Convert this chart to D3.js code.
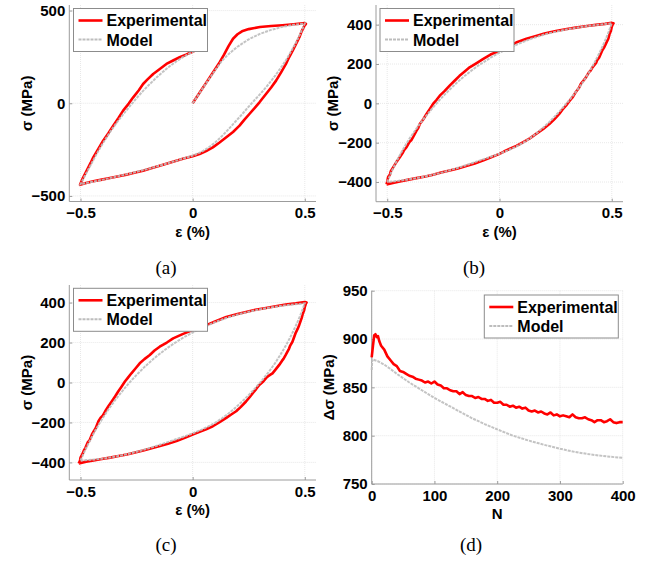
<!DOCTYPE html>
<html>
<head>
<meta charset="utf-8">
<script src="https://cdn.jsdelivr.net/npm/d3@7/dist/d3.min.js"></script>
<style>
  body { margin: 0; background: #fff; }
  svg { display: block; }
</style>
</head>
<body>
<svg id="chart"></svg>
<script>
// ---- data ----
// (a) first cycle, strain (%) / stress (MPa) pairs
var aExp = [[0,0],[0.03,55],[0.06,110],[0.09,165],[0.12,220],[0.14,262],[0.16,308],[0.18,348],[0.2,372],[0.22,388],[0.25,400],[0.3,411],[0.35,417],[0.4,421],[0.45,426],[0.5,432],
  [0.505,428],[0.497,415],[0.485,385],[0.476,356],[0.46,318],[0.446,284],[0.43,248],[0.416,212],[0.395,168],[0.372,122],[0.35,85],[0.327,50],[0.298,5],[0.275,-28],[0.253,-58],[0.23,-90],[0.209,-121],[0.18,-155],[0.15,-184],[0.12,-212],[0.09,-238],[0.06,-258],[0.031,-274],[0,-286],[-0.04,-298],[-0.073,-310],[-0.11,-324],[-0.147,-337],[-0.185,-351],[-0.221,-364],[-0.26,-375],[-0.295,-385],[-0.33,-394],[-0.369,-403],[-0.405,-412],[-0.443,-421],[-0.475,-430],[-0.502,-440],
  [-0.498,-428],[-0.49,-405],[-0.473,-364],[-0.455,-322],[-0.443,-292],[-0.42,-245],[-0.399,-202],[-0.375,-160],[-0.354,-121],[-0.33,-78],[-0.31,-40],[-0.285,-2],[-0.265,32],[-0.24,70],[-0.221,104],[-0.2,130],[-0.176,158],[-0.145,186],[-0.117,212],[-0.085,232],[-0.058,248],[-0.03,262],[-0.006,275],[0.02,290]];
var aModel = [[0,0],[0.05,90],[0.1,178],[0.13,228],[0.16,265],[0.2,305],[0.25,345],[0.3,374],[0.35,396],[0.4,412],[0.45,423],[0.5,430],
  [0.48,375],[0.46,325],[0.44,282],[0.42,240],[0.4,203],[0.37,152],[0.34,105],[0.31,62],[0.28,22],[0.25,-18],[0.22,-60],[0.19,-100],[0.16,-140],[0.13,-178],[0.1,-212],[0.07,-240],[0.04,-262],[0.01,-278],[-0.03,-294],[-0.1,-320],[-0.2,-355],[-0.3,-385],[-0.4,-412],[-0.5,-437],
  [-0.48,-390],[-0.46,-345],[-0.44,-300],[-0.42,-256],[-0.4,-215],[-0.37,-158],[-0.34,-107],[-0.31,-60],[-0.28,-16],[-0.25,28],[-0.22,68],[-0.19,105],[-0.16,140],[-0.13,172],[-0.1,202],[-0.07,228],[-0.04,251],[-0.01,271],[0.02,288]];

// (b) stabilised loop
var bExp = [[-0.503,-412],[-0.499,-392],[-0.496,-375],[-0.488,-362],[-0.484,-345],[-0.473,-324],[-0.46,-300],[-0.455,-292],[-0.444,-274],[-0.43,-250],[-0.425,-238],[-0.414,-223],[-0.4,-195],[-0.393,-188],[-0.385,-172],[-0.37,-140],[-0.362,-126],[-0.355,-105],[-0.34,-82],[-0.325,-54],[-0.31,-28],[-0.296,-3],[-0.28,18],[-0.266,39],[-0.245,62],[-0.222,90],[-0.2,115],[-0.178,140],[-0.155,162],[-0.133,183],[-0.1,206],[-0.074,225],[-0.04,248],[0,267],[0.04,290],[0.074,309],[0.12,328],[0.163,343],[0.2,355],[0.251,368],[0.3,378],[0.34,385],[0.39,393],[0.429,399],[0.47,404],[0.5,409],[0.508,407],
  [0.506,406],[0.5,390],[0.496,368],[0.49,352],[0.485,330],[0.473,301],[0.465,282],[0.458,270],[0.444,233],[0.435,220],[0.43,205],[0.414,183],[0.405,165],[0.398,158],[0.385,132],[0.37,110],[0.363,100],[0.355,81],[0.34,58],[0.325,30],[0.31,10],[0.296,-12],[0.28,-32],[0.266,-54],[0.245,-80],[0.222,-105],[0.195,-130],[0.163,-155],[0.135,-178],[0.104,-198],[0.075,-216],[0.044,-232],[0.02,-245],[0,-257],[-0.04,-275],[-0.074,-291],[-0.11,-306],[-0.148,-319],[-0.185,-331],[-0.222,-341],[-0.26,-352],[-0.296,-363],[-0.33,-372],[-0.37,-380],[-0.41,-389],[-0.444,-397],[-0.475,-405],[-0.503,-412]];
var bModel = [[-0.5,-400],[-0.48,-345],[-0.46,-298],[-0.44,-255],[-0.42,-215],[-0.4,-178],[-0.37,-128],[-0.34,-82],[-0.31,-40],[-0.28,0],[-0.25,38],[-0.22,72],[-0.19,105],[-0.16,135],[-0.13,162],[-0.1,188],[-0.07,210],[-0.04,232],[0,258],[0.05,285],[0.1,310],[0.15,332],[0.2,350],[0.25,364],[0.3,376],[0.35,386],[0.4,394],[0.45,401],[0.5,407],
  [0.48,345],[0.46,292],[0.44,245],[0.42,200],[0.4,160],[0.37,105],[0.34,58],[0.31,15],[0.28,-25],[0.25,-62],[0.22,-97],[0.19,-128],[0.16,-157],[0.13,-182],[0.1,-204],[0.07,-222],[0.04,-238],[0,-256],[-0.05,-276],[-0.1,-295],[-0.15,-315],[-0.2,-333],[-0.25,-350],[-0.3,-364],[-0.35,-376],[-0.4,-386],[-0.45,-394],[-0.5,-400]];

// (c) later loop
var cExp = [[-0.508,-405],[-0.502,-390],[-0.5,-376],[-0.49,-355],[-0.485,-340],[-0.478,-327],[-0.468,-300],[-0.46,-290],[-0.449,-260],[-0.44,-242],[-0.432,-228],[-0.42,-194],[-0.41,-176],[-0.4,-165],[-0.39,-144],[-0.375,-118],[-0.361,-95],[-0.346,-70],[-0.332,-45],[-0.318,-22],[-0.302,5],[-0.29,22],[-0.273,46],[-0.255,70],[-0.236,96],[-0.215,117],[-0.191,138],[-0.17,160],[-0.147,179],[-0.115,200],[-0.087,221],[-0.045,242],[0,262],[0.03,275],[0.061,287],[0.1,305],[0.15,328],[0.2,343],[0.238,353],[0.28,364],[0.327,373],[0.37,382],[0.415,390],[0.46,396],[0.5,403],[0.508,400],
  [0.505,395],[0.5,378],[0.497,361],[0.49,340],[0.486,322],[0.475,287],[0.468,268],[0.46,250],[0.445,204],[0.435,185],[0.43,170],[0.415,138],[0.405,118],[0.398,108],[0.386,88],[0.372,68],[0.356,46],[0.345,38],[0.335,30],[0.327,22],[0.315,5],[0.297,-12],[0.283,-33],[0.268,-53],[0.253,-75],[0.238,-95],[0.215,-122],[0.194,-144],[0.172,-160],[0.15,-177],[0.12,-198],[0.09,-219],[0.06,-234],[0.031,-247],[0,-260],[-0.035,-277],[-0.072,-293],[-0.11,-306],[-0.146,-318],[-0.183,-329],[-0.22,-340],[-0.257,-350],[-0.294,-360],[-0.33,-368],[-0.368,-376],[-0.405,-383],[-0.442,-390],[-0.475,-396],[-0.508,-405]];
var cModel = [[-0.5,-390],[-0.48,-340],[-0.46,-295],[-0.44,-252],[-0.42,-213],[-0.4,-176],[-0.37,-126],[-0.34,-80],[-0.31,-38],[-0.28,2],[-0.25,38],[-0.22,72],[-0.19,103],[-0.16,132],[-0.13,158],[-0.1,183],[-0.07,205],[-0.04,226],[0,250],[0.05,277],[0.1,302],[0.15,323],[0.2,340],[0.25,354],[0.3,366],[0.35,376],[0.4,384],[0.45,391],[0.5,396],
  [0.48,336],[0.46,284],[0.44,237],[0.42,194],[0.4,155],[0.37,101],[0.34,54],[0.31,12],[0.28,-27],[0.25,-63],[0.22,-96],[0.19,-127],[0.16,-155],[0.13,-180],[0.1,-202],[0.07,-220],[0.04,-236],[0,-255],[-0.05,-275],[-0.1,-294],[-0.15,-313],[-0.2,-331],[-0.25,-347],[-0.3,-361],[-0.35,-372],[-0.4,-381],[-0.45,-387],[-0.5,-390]];

// (d) stress range vs cycle number
var dExpN = [0,2,4,6,8,10,12,15,20,25,30,35,40,45,50,55,60,65,70,75,80,85,90,95,100,105,110,115,120,125,130,135,140,145,150,155,160,165,170,175,180,185,190,195,200,205,210,215,220,225,230,235,240,245,250,255,260,265,270,275,280,285,290,295,300,305,310,315,320,325,330,335,340,345,350,355,360,365,370,375,380,385,390,395,400];
var dExp = [881,893,904,905,902,903,898,893,889,882,878,874,872,867,866,864,862,861,859,858,857,855,856,854,856,853,852,849,849,847,846,846,843,845,842,841,841,839,840,838,838,836,837,834,834,835,832,832,830,831,829,830,828,829,826,825,826,824,825,823,822,824,821,822,820,821,820,819,822,819,818,818,819,817,816,814,816,816,814,815,817,814,813,814,814];
var dModelN = [0,1,10,20,30,40,50,60,70,80,90,100,120,140,160,180,200,225,250,275,300,325,350,375,400];
var dModel = [868,879,877,873.5,869,864,859.5,855,851,847,843,839,832,825,818,812,806.5,800,795,790.5,786.5,783,780.5,778.5,777];

var strainTicks = [-0.5, 0, 0.5];
var stressTicksA = [-500, 0, 500];
var stressTicksBC = [-400, -200, 0, 200, 400];
var cycleTicks = [0, 100, 200, 300, 400];
var rangeTicks = [750, 800, 850, 900, 950];
var legendLabels = ["Experimental", "Model"];

var W = 651, H = 563;
var svg = d3.select("#chart").attr("width", W).attr("height", H);

var axisColor = "#9c9c9c";
var modelColor = "#bdbdbd";
var font = "'Liberation Sans', Arial, sans-serif";

function panel(cfg) {
  var x = d3.scaleLinear().domain(cfg.xDomain).range([cfg.left, cfg.right]);
  var y = d3.scaleLinear().domain(cfg.yDomain).range([cfg.bottom, cfg.top]);
  var g = svg.append("g");

  // grid
  g.selectAll(".gx").data(cfg.xTicks).join("line")
    .attr("x1", d => x(d)).attr("x2", d => x(d))
    .attr("y1", cfg.top).attr("y2", cfg.bottom)
    .attr("stroke", "#e2e2e2").attr("stroke-width", 0.8).attr("stroke-dasharray", "1,1");
  g.selectAll(".gy").data(cfg.yTicks).join("line")
    .attr("x1", cfg.left).attr("x2", cfg.right)
    .attr("y1", d => y(d)).attr("y2", d => y(d))
    .attr("stroke", "#e2e2e2").attr("stroke-width", 0.8).attr("stroke-dasharray", "1,1");

  // axes (MATLAB style, inward ticks, no box)
  var ax = d3.axisBottom(x).tickValues(cfg.xTicks).tickSize(-3).tickPadding(6).tickFormat(d3.format(""));
  var ay = d3.axisLeft(y).tickValues(cfg.yTicks).tickSize(-3).tickPadding(4).tickFormat(d3.format(""));
  var gx = g.append("g").attr("transform", "translate(0," + cfg.bottom + ")").call(ax);
  var gy = g.append("g").attr("transform", "translate(" + cfg.left + ",0)").call(ay);
  [gx, gy].forEach(function (a) {
    a.select(".domain").attr("stroke", axisColor).attr("d",
      a === gx ? "M" + cfg.left + ",0H" + cfg.right : "M0," + cfg.top + "V" + cfg.bottom);
    a.selectAll(".tick line").attr("stroke", axisColor);
    a.selectAll(".tick text").attr("fill", "#000").attr("font-family", font)
      .attr("font-weight", "bold").attr("font-size", "15px");
  });
  gx.selectAll(".tick text").attr("dy", "0.71em").attr("y", 6);

  // curves
  var line = d3.line().x(d => x(d[0])).y(d => y(d[1]));
  g.append("path").datum(cfg.exp).attr("d", line)
    .attr("fill", "none").attr("stroke", "#ff0000").attr("stroke-width", 2.6)
    .attr("stroke-linejoin", "round");
  g.append("path").datum(cfg.model).attr("d", line)
    .attr("fill", "none").attr("stroke", modelColor).attr("stroke-width", 2)
    .attr("stroke-dasharray", "3,1").attr("opacity", 0.9);

  // axis titles
  g.append("text")
    .attr("transform", "translate(" + (cfg.left - 43) + "," + ((cfg.top + cfg.bottom) / 2) + ") rotate(-90)")
    .attr("text-anchor", "middle").attr("dy", "0.35em")
    .attr("font-family", font).attr("font-weight", "bold").attr("font-size", "15px")
    .text(cfg.yLabel);
  g.append("text")
    .attr("x", (cfg.left + cfg.right) / 2).attr("y", cfg.bottom + 35)
    .attr("text-anchor", "middle")
    .attr("font-family", font).attr("font-weight", "bold").attr("font-size", "15px")
    .text(cfg.xLabel);

  // legend
  var lg = g.append("g").attr("transform", "translate(" + cfg.legend[0] + "," + cfg.legend[1] + ")");
  lg.append("rect").attr("width", 134).attr("height", 43)
    .attr("fill", "#fff").attr("stroke", "#8c8c8c").attr("stroke-width", 1);
  lg.append("line").attr("x1", 5).attr("x2", 29).attr("y1", 12).attr("y2", 12)
    .attr("stroke", "#ff0000").attr("stroke-width", 2.6);
  lg.append("line").attr("x1", 5).attr("x2", 29).attr("y1", 31).attr("y2", 31)
    .attr("stroke", modelColor).attr("stroke-width", 2).attr("stroke-dasharray", "3,1");
  lg.selectAll(".lt").data(legendLabels).join("text")
    .attr("x", 33).attr("y", (d, i) => 17.5 + i * 19.5)
    .attr("font-family", font).attr("font-weight", "bold").attr("font-size", "16px")
    .text(d => d);

  // caption
  svg.append("text").attr("x", cfg.caption[0]).attr("y", cfg.caption[1])
    .attr("text-anchor", "middle")
    .attr("font-family", "'Liberation Serif', 'Times New Roman', serif").attr("font-size", "19px")
    .text(cfg.captionText);
}

panel({ left: 69.3, right: 316, top: 5, bottom: 201.5, xDomain: [-0.55, 0.55], yDomain: [-530, 530],
  xTicks: strainTicks, yTicks: stressTicksA, exp: aExp, model: aModel,
  xLabel: "ε (%)", yLabel: "σ (MPa)", legend: [73.5, 8.5], caption: [166, 274], captionText: "(a)" });
panel({ left: 376, right: 623, top: 5, bottom: 201.7, xDomain: [-0.55, 0.55], yDomain: [-500, 500],
  xTicks: strainTicks, yTicks: stressTicksBC, exp: bExp, model: bModel,
  xLabel: "ε (%)", yLabel: "σ (MPa)", legend: [380, 8.5], caption: [474, 274], captionText: "(b)" });
panel({ left: 69.3, right: 316, top: 285, bottom: 480, xDomain: [-0.55, 0.55], yDomain: [-488, 488],
  xTicks: strainTicks, yTicks: stressTicksBC, exp: cExp, model: cModel,
  xLabel: "ε (%)", yLabel: "σ (MPa)", legend: [73.5, 288.3], caption: [166, 551], captionText: "(c)" });
panel({ left: 371.7, right: 622.7, top: 290.7, bottom: 484, xDomain: [0, 400], yDomain: [750, 950],
  xTicks: cycleTicks, yTicks: rangeTicks,
  exp: dExpN.map((n, i) => [n, dExp[i]]), model: dModelN.map((n, i) => [n, dModel[i]]),
  xLabel: "N", yLabel: "Δσ (MPa)", legend: [484.3, 295], caption: [471, 551], captionText: "(d)" });
</script>
</body>
</html>
